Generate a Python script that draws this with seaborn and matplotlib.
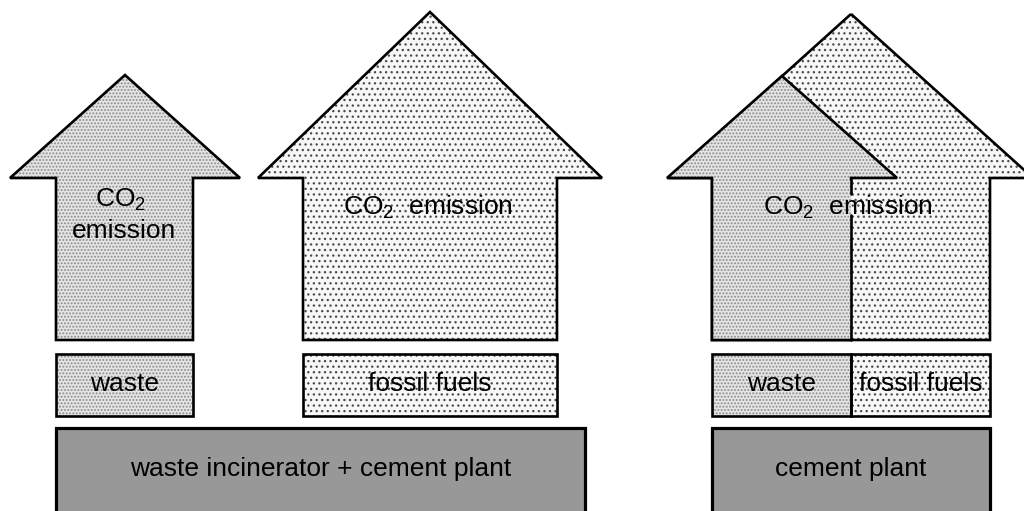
import seaborn as sns
import matplotlib.pyplot as plt
from matplotlib.patches import Polygon, Rectangle

# =========================
# GEOMETRY (pixel units of the 1024x511 picture, y grows downward)
# =========================

arrow_kind = ["waste", "fossil", "fossil", "waste"]
arrow_tip_x = [125, 430, 851, 782]
arrow_tip_y = [75, 12, 14, 76]
arrow_head_half = [115, 172, 182, 115]
arrow_shaft_left = [56, 303, 712, 712]
arrow_shaft_right = [193, 557, 990, 851]
head_base_y = 178
shaft_bottom_y = 340

emission_texts = ["CO$_{\\mathrm{2}}$", "emission", "CO$_{\\mathrm{2}}$  emission", "CO$_{\\mathrm{2}}$  emission"]
emission_x = [121, 124, 428, 848]
emission_y = [200, 231, 207, 207]

fuel_labels = ["waste", "fossil fuels", "waste", "fossil fuels"]
fuel_kind = ["waste", "fossil", "waste", "fossil"]
fuel_left = [56, 303, 712, 851]
fuel_right = [193, 557, 851, 990]
fuel_top, fuel_bottom = 354, 416

plant_labels = ["waste incinerator + cement plant", "cement plant"]
plant_left = [56, 712]
plant_right = [585, 990]
plant_top, plant_bottom = 428, 514

# =========================
# STYLE
# =========================

sns.set_theme(style="white")
plt.rcParams["font.family"] = ["Liberation Sans", "DejaVu Sans"]
plt.rcParams["text.color"] = "black"
plt.rcParams["mathtext.fontset"] = "custom"
plt.rcParams["mathtext.rm"] = "Liberation Sans"
plt.rcParams["hatch.linewidth"] = 0.9

styles = {
    "waste": dict(face="#e4e4e4", hatch=".....", dots="#8a8a8a"),
    "fossil": dict(face="#f7f7f7", hatch="...", dots="#4a4a4a"),
}
plant_color = "#989898"
lw = 1.9
fs = 19

fig = plt.figure(figsize=(10.24, 5.11), dpi=100)
ax = fig.add_axes([0, 0, 1, 1])
ax.set_xlim(0, 1024)
ax.set_ylim(511, 0)
ax.axis("off")


def patterned(points, kind, outline=True, z=1):
    st = styles[kind]
    ax.add_patch(Polygon(points, closed=True, facecolor=st["face"],
                         edgecolor=st["dots"], hatch=st["hatch"], lw=0, zorder=z))
    if outline:
        ax.add_patch(Polygon(points, closed=True, fill=False,
                             edgecolor="black", lw=lw, zorder=z + 0.5,
                             joinstyle="miter"))


# =========================
# ARROWS
# =========================

for i in range(len(arrow_kind)):
    cx, ty, hh = arrow_tip_x[i], arrow_tip_y[i], arrow_head_half[i]
    sl, sr = arrow_shaft_left[i], arrow_shaft_right[i]
    pts = [(cx, ty), (cx + hh, head_base_y), (sr, head_base_y),
           (sr, shaft_bottom_y), (sl, shaft_bottom_y), (sl, head_base_y),
           (cx - hh, head_base_y)]
    if i == 3:
        # front arrow of the cement plant: right shaft edge drawn with a gap at the text
        patterned(pts, arrow_kind[i], outline=False, z=3)
        xs = [sr, cx + hh, cx, cx - hh, sl, sl, sr]
        ys = [head_base_y, head_base_y, ty, head_base_y, head_base_y,
              shaft_bottom_y, shaft_bottom_y]
        ax.plot(xs, ys, color="black", lw=lw, zorder=3.5,
                solid_joinstyle="miter", solid_capstyle="projecting")
        ax.plot([sr, sr], [head_base_y, 194], color="black", lw=lw, zorder=3.5)
        ax.plot([sr, sr], [215, shaft_bottom_y], color="black", lw=lw, zorder=3.5)
    else:
        patterned(pts, arrow_kind[i], z=1)

for t, x, y in zip(emission_texts, emission_x, emission_y):
    ax.text(x, y, t, fontsize=fs, ha="center", va="center", color="black", zorder=6)

# =========================
# FUEL BOXES
# =========================

for lab, kind, l, r in zip(fuel_labels, fuel_kind, fuel_left, fuel_right):
    pts = [(l, fuel_top), (r, fuel_top), (r, fuel_bottom), (l, fuel_bottom)]
    patterned(pts, kind, z=2)
    ax.text((l + r) / 2, (fuel_top + fuel_bottom) / 2 - 1, lab, fontsize=fs,
            ha="center", va="center", color="black", zorder=6)

# =========================
# PLANTS
# =========================

for lab, l, r in zip(plant_labels, plant_left, plant_right):
    ax.add_patch(Rectangle((l, plant_top), r - l, plant_bottom - plant_top,
                           facecolor=plant_color, edgecolor="black", lw=2.3, zorder=2))
    ax.text((l + r) / 2, 469, lab, fontsize=fs, ha="center", va="center",
            color="black", zorder=6)

fig.savefig("out.png", dpi=100)
